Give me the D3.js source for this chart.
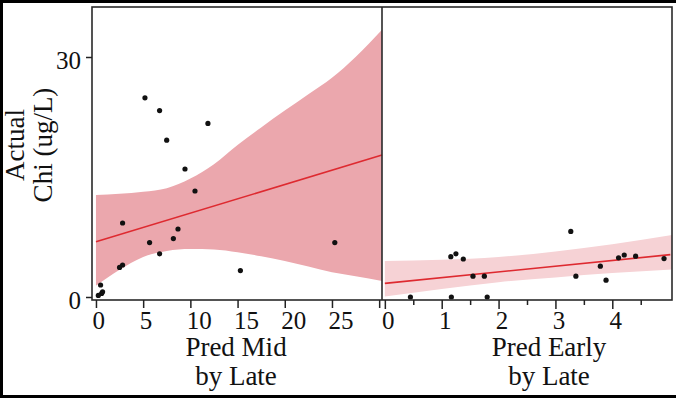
<!DOCTYPE html>
<html>
<head>
<meta charset="utf-8">
<script src="https://cdn.jsdelivr.net/npm/d3@7"></script>
<style>
  html, body { margin: 0; padding: 0; background: #fff; }
  svg { display: block; font-family: 'Liberation Serif', 'Times New Roman', serif; }
</style>
</head>
<body>
<div id="viz"></div>
<script>
const width = 676;
const height = 398;
const panelTop = 7;
const panelBottom = 300;
const leftX0 = 92;
const divX = 382;
const rightX1 = 672;
const serif = "'Liberation Serif', 'Times New Roman', serif";

const bandMid = '#eba7ad';
const bandEarly = '#f6d2d5';
const fitColor = '#de2a30';

// y ticks shared by both panels
const yTicks = [0, 30];

// Pred Mid by Late panel
const midTicks = [0, 5, 10, 15, 20, 25, 30];
const midX = [5.19, 6.74, 11.86, 7.49, 9.43, 10.49, 2.82, 8.69, 8.2, 5.68, 6.74, 2.82, 2.5, 0.49, 0.6, 0.25, 0.7, 15.3, 25.3];
const midY = [24.9, 23.3, 21.7, 19.6, 16.0, 13.25, 9.25, 8.5, 7.3, 6.8, 5.4, 4.0, 3.7, 1.5, 0.45, 0.2, 0.65, 3.3, 6.8];
const midBandX = [0, 2.5, 5, 7.5, 10, 12.5, 15, 17.5, 20, 22.5, 25, 27.5, 30.3];
const midBandHi = [12.75, 12.9, 13.15, 13.6, 14.8, 16.6, 19.0, 21.2, 23.3, 25.35, 27.4, 30.0, 33.4];
const midBandLo = [1.4, 3.4, 5.0, 5.75, 6.0, 5.95, 5.6, 5.1, 4.5, 3.8, 3.1, 2.6, 2.0];
const midFitX = [0, 30.3];
const midFitY = [6.9, 17.75];

// Pred Early by Late panel
const earlyMajor = [0, 1, 2, 3, 4];
const earlyMinor = [0.5, 1.5, 2.5, 3.5, 4.5];
const earlyX = [0.45, 1.16, 1.25, 1.38, 1.17, 1.55, 1.75, 1.8, 3.27, 3.36, 3.79, 3.89, 4.11, 4.21, 4.41, 4.91];
const earlyY = [0, 5.04, 5.4, 4.75, 0, 2.6, 2.6, 0, 8.2, 2.6, 3.85, 2.1, 4.9, 5.25, 5.1, 4.8];
const earlyBandX = [0, 1, 2, 3, 4, 5.05];
const earlyBandHi = [4.5, 4.65, 5.0, 5.7, 6.6, 7.75];
const earlyBandLo = [0.05, 1.0, 1.85, 2.45, 3.0, 3.45];
const earlyFitX = [0, 5.02];
const earlyFitY = [1.7, 5.3];

const svg = d3.select('#viz')
  .append('svg')
    .attr('width', width)
    .attr('height', height)
    .attr('viewBox', [0, 0, width, height]);

const yScale = d3.scaleLinear()
  .domain([-0.375, 36.25])
  .range([panelBottom, panelTop]);

const xMid = d3.scaleLinear()
  .domain([-0.42, 30.3])
  .range([leftX0, divX]);

const xEarly = d3.scaleLinear()
  .domain([-0.05, 5.05])
  .range([divX, rightX1]);

const zip = (xs, ys) => xs.map((x, i) => ({x: x, y: ys[i]}));

function drawPanel(x, bandX, bandHi, bandLo, fitX, fitY, ptsX, ptsY, fill) {
  const area = d3.area()
    .x(d => x(d.x))
    .y0(d => yScale(d.lo))
    .y1(d => yScale(d.hi))
    .curve(d3.curveMonotoneX);
  svg.append('path')
    .datum(bandX.map((v, i) => ({x: v, hi: bandHi[i], lo: bandLo[i]})))
    .attr('d', area)
    .attr('fill', fill);

  const line = d3.line()
    .x(d => x(d.x))
    .y(d => yScale(d.y));
  svg.append('path')
    .datum(zip(fitX, fitY))
    .attr('d', line)
    .attr('fill', 'none')
    .attr('stroke', fitColor)
    .attr('stroke-width', 1.6);

  svg.append('g')
    .selectAll('circle')
    .data(zip(ptsX, ptsY))
    .join('circle')
      .attr('cx', d => x(d.x))
      .attr('cy', d => yScale(d.y))
      .attr('r', 2.6)
      .attr('fill', '#111');
}

drawPanel(xMid, midBandX, midBandHi, midBandLo, midFitX, midFitY, midX, midY, bandMid);
drawPanel(xEarly, earlyBandX, earlyBandHi, earlyBandLo, earlyFitX, earlyFitY, earlyX, earlyY, bandEarly);

// panel frames
svg.append('rect')
  .attr('x', leftX0).attr('y', panelTop)
  .attr('width', rightX1 - leftX0).attr('height', panelBottom - panelTop)
  .attr('fill', 'none').attr('stroke', '#2a2a2a').attr('stroke-width', 1.6);
svg.append('line')
  .attr('x1', divX).attr('x2', divX)
  .attr('y1', panelTop).attr('y2', panelBottom)
  .attr('stroke', '#2a2a2a').attr('stroke-width', 1.6);

// shared styling for axis groups (d3 puts sans-serif on them)
function styleAxis(g) {
  g.attr('font-family', serif);
  g.select('.domain').remove();
  g.selectAll('line').attr('stroke', '#222').attr('stroke-width', 1.5);
  g.selectAll('text').attr('fill', '#111').style('font-size', '25px');
}

// y axis
const yAxisG = svg.append('g')
  .attr('transform', `translate(${leftX0}, 0)`)
  .call(d3.axisLeft(yScale).tickValues(yTicks).tickSize(6).tickPadding(5));
styleAxis(yAxisG);
yAxisG.selectAll('text').attr('dy', '0.45em');

// x axis, left panel
const xMidG = svg.append('g')
  .attr('transform', `translate(0, ${panelBottom})`)
  .call(d3.axisBottom(xMid).tickValues(midTicks).tickSize(8).tickPadding(3)
    .tickFormat(d => d === 30 ? '' : d3.format('d')(d)));
styleAxis(xMidG);
xMidG.selectAll('text')
  .attr('text-anchor', 'start')
  .attr('dx', -4);

// x axis, right panel
const xEarlyG = svg.append('g')
  .attr('transform', `translate(0, ${panelBottom})`)
  .call(d3.axisBottom(xEarly).tickValues(earlyMajor).tickSize(9).tickPadding(2)
    .tickFormat(d3.format('d')));
styleAxis(xEarlyG);
xEarlyG.selectAll('text').attr('dx', 3);

const xEarlyMinorG = svg.append('g')
  .attr('transform', `translate(0, ${panelBottom})`)
  .call(d3.axisBottom(xEarly).tickValues(earlyMinor).tickSize(5).tickFormat(''));
styleAxis(xEarlyMinorG);

// axis titles
const titleSize = '27px';
[['Pred Mid', 236, 356], ['by Late', 236, 384.5], ['Pred Early', 549, 356], ['by Late', 549, 384.5]]
  .forEach(t => {
    svg.append('text')
      .attr('x', t[1])
      .attr('y', t[2])
      .attr('text-anchor', 'middle')
      .attr('fill', '#111')
      .style('font-size', titleSize)
      .text(t[0]);
  });

[['Actual', 24], ['Chi (ug/L)', 52]].forEach(t => {
  svg.append('text')
    .attr('transform', `translate(${t[1]}, 145) rotate(-90)`)
    .attr('text-anchor', 'middle')
    .attr('fill', '#111')
    .style('font-size', titleSize)
    .text(t[0]);
});

// outer black frame (top, left, bottom)
svg.append('rect').attr('x', 0).attr('y', 0).attr('width', width).attr('height', 3).attr('fill', '#000');
svg.append('rect').attr('x', 0).attr('y', 0).attr('width', 3).attr('height', height).attr('fill', '#000');
svg.append('rect').attr('x', 0).attr('y', height - 3).attr('width', width).attr('height', 3).attr('fill', '#000');
</script>
</body>
</html>
